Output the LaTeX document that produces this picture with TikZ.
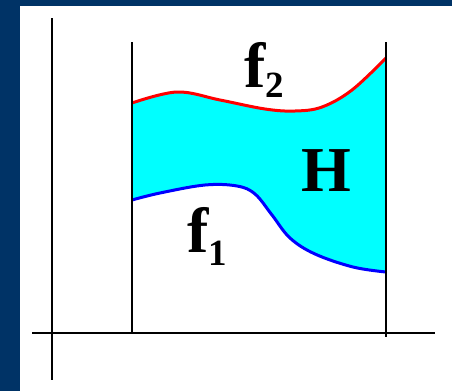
\documentclass[tikz,border=0pt]{standalone}
\usepackage{fontspec}
\setmainfont{Liberation Serif}
\definecolor{frameblue}{HTML}{003366}
\definecolor{regioncyan}{HTML}{00FFFF}
\tikzset{
  axisline/.style={black, line width=1.8pt},
  upper/.style={red, line width=3pt, line join=round},
  lower/.style={blue, line width=3pt, line join=round},
  lbl/.style={inner sep=0pt, anchor=base west, font=\fontsize{64}{64}\selectfont\bfseries},
  sublbl/.style={inner sep=0pt, anchor=base west, font=\fontsize{37}{37}\selectfont\bfseries}
}
\begin{document}
\begin{tikzpicture}[x=1pt, y=-1pt]
\useasboundingbox (0,0) rectangle (452,391);
\fill[frameblue] (0,0) rectangle (452,391);
\fill[white] (20,6) rectangle (452,391);
% region H
\fill[regioncyan] plot[smooth, tension=0.6] coordinates {(132,103) (177,92) (220,100) (265,109) (295,111) (322,107) (352,90) (386,58)}
  -- plot[smooth, tension=0.6] coordinates {(386,272) (353,267) (315,254) (290,238) (272,215) (255,194) (237,186) (205,185) (160,193) (132,200)} -- cycle;
\draw[upper] plot[smooth, tension=0.6] coordinates {(132,103) (177,92) (220,100) (265,109) (295,111) (322,107) (352,90) (386,58)};
\draw[lower] plot[smooth, tension=0.6] coordinates {(132,200) (160,193) (205,185) (237,186) (255,194) (272,215) (290,238) (315,254) (353,267) (386,272)};
% axes
\coordinate (yt) at (52,18);
\coordinate (yb) at (52,380);
\coordinate (xl) at (32,333);
\coordinate (xr) at (435,333);
\coordinate (at) at (132,42);
\coordinate (ab) at (132,333);
\coordinate (bt) at (386,42);
\coordinate (bb) at (386,337);
\draw[axisline] (yt) -- (yb);
\draw[axisline] (xl) -- (xr);
\draw[axisline] (at) -- (ab);
\draw[axisline] (bt) -- (bb);
% labels
\node[lbl] (f2) at (244,87) {f};
\node[sublbl] (f2s) at (265,97) {2};
\node[lbl] (f1) at (187,252) {f};
\node[sublbl] (f1s) at (208,265) {1};
\node[lbl] (H) at (301,191) {H};
\end{tikzpicture}
\end{document}
